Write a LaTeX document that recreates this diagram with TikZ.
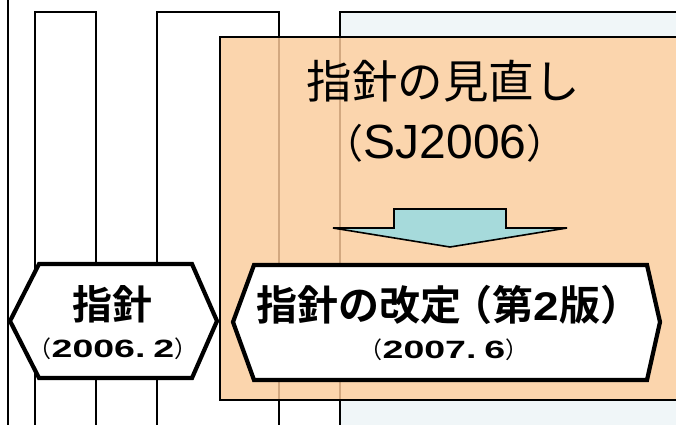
\documentclass[tikz,border=0pt]{standalone}
\usepackage{fontspec}
\newfontfamily\jp{Noto Sans CJK JP}
\newfontfamily\jpb{Noto Sans CJK JP Bold}
\newfontfamily\lat{Liberation Sans}
\newfontfamily\latb{Liberation Sans Bold}
\newfontfamily\latbw[FakeStretch=1.5]{Liberation Sans Bold}
\newfontfamily\latbm[FakeStretch=1.15]{Liberation Sans Bold}
\definecolor{orangebg}{RGB}{251,213,173}
\definecolor{tanline}{RGB}{210,168,128}
\definecolor{arrowfill}{RGB}{166,218,219}
\definecolor{paleblue}{RGB}{240,246,248}
\newcommand{\datestr}[2]{{\jp\fontsize{23}{23}\selectfont（}{\latbw\fontsize{25}{25}\selectfont #1.\hspace{8pt}#2}{\jp\fontsize{23}{23}\selectfont）}}
\tikzset{
  lane/.style={draw=black, line width=1.4pt},
  hexbox/.style={draw=black, fill=white, line width=4.2pt, line join=miter},
  blockarrow/.style={draw=black, fill=arrowfill, line width=1.6pt, line join=miter},
  datetext/.style={anchor=base, inner sep=0pt},
}
\begin{document}
\begin{tikzpicture}[x=1pt,y=-1pt]
\useasboundingbox (0,0) rectangle (676,424);
% lanes
\draw[lane] (8,-5) -- (8,430);
\draw[lane] (35,430) -- (35,12) -- (96,12) -- (96,430);
\draw[lane, fill=white] (157,430) -- (157,12) -- (279,12) -- (279,430);
\draw[lane, fill=paleblue] (340,430) -- (340,12) -- (680,12) -- (680,430);
% orange area
\draw[fill=orangebg, draw=black, line width=1.2pt] (220,37) rectangle (680,400);
\draw[tanline, line width=1.4pt] (279,38) -- (279,399);
\draw[tanline, line width=1.4pt] (340,38) -- (340,399);
% title
\node[font=\jp\fontsize{45.5}{45.5}\selectfont] (t1) at (443,81) {指針の見直し};
\node[anchor=base, inner sep=0pt] (t2) at (445,158) {\jp\fontsize{40}{40}\selectfont（\lat\fontsize{48}{48}\selectfont SJ2006\jp\fontsize{40}{40}\selectfont）};
% block arrow
\coordinate (a1) at (394,209);
\coordinate (a2) at (506,209);
\coordinate (a3) at (506,228);
\coordinate (a4) at (567,228);
\coordinate (a5) at (450,247);
\coordinate (a6) at (333,228);
\coordinate (a7) at (394,228);
\draw[blockarrow] (a1) -- (a2) -- (a3) -- (a4) -- (a5) -- (a6) -- (a7) -- cycle;
% hexagon 1
\draw[hexbox] (10,321) -- (39,264) -- (192,264) -- (217,321) -- (192,378) -- (39,378) -- cycle;
\node[font=\jpb\fontsize{40}{40}\selectfont, inner sep=0pt] (h1a) at (112,304) {指針};
\node[datetext] (h1b) at (113,357) {\datestr{2006}{2}};
% hexagon 2
\draw[hexbox] (233,322) -- (254,265) -- (647,265) -- (660,322) -- (647,380) -- (254,380) -- cycle;
\node[font=\jpb\fontsize{41}{41}\selectfont, inner sep=0pt] (h2a) at (449,305) {指針の改定\hspace{-10pt}（第{\latbm\fontsize{40}{40}\selectfont 2}版）};
\node[datetext] (h2b) at (444,358) {\datestr{2007}{6}};
\end{tikzpicture}
\end{document}
